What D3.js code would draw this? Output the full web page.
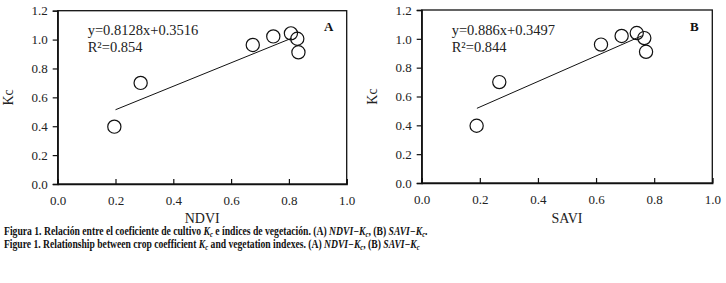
<!DOCTYPE html>
<html><head><meta charset="utf-8">
<script src="https://cdn.jsdelivr.net/npm/d3@7/dist/d3.min.js"></script>
<style>
html,body{margin:0;padding:0;background:#fff;}
svg{display:block;font-family:"Liberation Serif","DejaVu Serif",serif;}
</style></head>
<body>
<svg id="chart" width="726" height="283"></svg>
<script>
// ---- data ----
const ndviX = [0.196, 0.287, 0.675, 0.746, 0.807, 0.829, 0.833];
const ndviKc = [0.397, 0.700, 0.963, 1.022, 1.043, 1.006, 0.912];
const saviX = [0.189, 0.267, 0.617, 0.688, 0.740, 0.766, 0.772];
const saviKc = [0.397, 0.700, 0.960, 1.020, 1.040, 1.005, 0.910];
const fitA = {slope: 0.8128, intercept: 0.3516, x0: 0.2, x1: 0.81};
const fitB = {slope: 0.886, intercept: 0.3497, x0: 0.19, x1: 0.757};
const xTicks = [0.0, 0.2, 0.4, 0.6, 0.8, 1.0];
const yTicks = [0.0, 0.2, 0.4, 0.6, 0.8, 1.0, 1.2];
const eqA = ["y=0.8128x+0.3516", "R²=0.854"];
const eqB = ["y=0.886x+0.3497", "R²=0.844"];

const svg = d3.select("#chart");

function panel(o) {
  const x = d3.scaleLinear().domain([0, 1]).range([o.left, o.right]);
  const y = d3.scaleLinear().domain([0, 1.2]).range([o.bottom, o.top]);
  const g = svg.append("g");

  // frame
  g.append("rect").attr("x", o.left).attr("y", o.top)
    .attr("width", o.right - o.left).attr("height", o.bottom - o.top)
    .attr("fill", "none").attr("stroke", "#111").attr("stroke-width", 1.3);

  // y axis (outward ticks)
  const ya = g.append("g").attr("transform", `translate(${o.left},0)`)
    .call(d3.axisLeft(y).tickValues(yTicks).tickFormat(d3.format(".1f")).tickSize(5).tickPadding(5));
  // x axis (inward ticks)
  const xa = g.append("g").attr("transform", `translate(0,${o.bottom})`)
    .call(d3.axisBottom(x).tickValues(xTicks).tickFormat(d3.format(".1f")).tickSize(-5).tickPadding(12));
  [ya, xa].forEach(a => {
    a.select(".domain").attr("stroke", "#111").attr("stroke-width", 1.3);
    a.selectAll(".tick line").attr("stroke", "#111").attr("stroke-width", 1.2);
    a.selectAll(".tick text").attr("font-family", "Liberation Serif").attr("font-size", 13).attr("fill", "#222");
  });

  // axis titles
  g.append("text").attr("x", (o.left + o.right) / 2).attr("y", 222.5)
    .attr("text-anchor", "middle").attr("font-size", 14).attr("fill", "#222").text(o.xLabel);
  g.append("text").attr("transform", `translate(${o.left - 45},${(o.top + o.bottom) / 2}) rotate(-90)`)
    .attr("text-anchor", "middle").attr("font-size", 14).attr("fill", "#222").text("Kc");

  // regression line
  g.append("line")
    .attr("x1", x(o.fit.x0)).attr("y1", y(o.fit.slope * o.fit.x0 + o.fit.intercept))
    .attr("x2", x(o.fit.x1)).attr("y2", y(o.fit.slope * o.fit.x1 + o.fit.intercept))
    .attr("stroke", "#111").attr("stroke-width", 1);

  // points
  g.selectAll("circle.pt").data(o.xs.map((v, i) => [v, o.ys[i]])).join("circle")
    .attr("class", "pt").attr("cx", d => x(d[0])).attr("cy", d => y(d[1])).attr("r", 6.6)
    .attr("fill", "none").attr("stroke", "#111").attr("stroke-width", 1.2);

  // equation
  o.eq.forEach((t, i) => {
    g.append("text").attr("x", o.left + 30).attr("y", 35 + i * 16.5)
      .attr("font-size", 14.5).attr("fill", "#222").text(t);
  });
  // panel letter
  g.append("text").attr("x", o.right - 18).attr("y", 31).attr("text-anchor", "middle")
    .attr("font-size", 13).attr("font-weight", "bold").attr("fill", "#111").text(o.letter);
}

panel({left: 57.7, right: 346.7, top: 10.7, bottom: 184, xs: ndviX, ys: ndviKc, fit: fitA, eq: eqA, letter: "A", xLabel: "NDVI"});
panel({left: 421.7, right: 712.3, top: 10, bottom: 183, xs: saviX, ys: saviKc, fit: fitB, eq: eqB, letter: "B", xLabel: "SAVI"});

// caption
function caption(parts, yb, targetW, weight) {
  const g = svg.append("g");
  const t = g.append("text").attr("x", 0).attr("y", 0).attr("font-size", 11.5)
    .attr("font-weight", weight).attr("fill", "#111");
  parts.forEach(p => {
    const s = t.append("tspan").text(p.t);
    if (p.i) s.attr("font-style", "italic");
    if (p.sub) { s.attr("font-size", 8).attr("dy", 2).attr("font-style", "italic"); }
    if (p.up) s.attr("dy", -2);
  });
  const w = t.node().getComputedTextLength();
  g.attr("transform", `translate(4,${yb}) scale(${targetW / w},1)`);
}
caption([
  {t: "Figura 1. Relación entre el coeficiente de cultivo "}, {t: "K", i: 1}, {t: "c", sub: 1},
  {t: " e índices de vegetación. (A) ", up: 1}, {t: "NDVI−K", i: 1}, {t: "c", sub: 1},
  {t: ", (B) ", up: 1}, {t: "SAVI−K", i: 1}, {t: "c", sub: 1}, {t: ".", up: 1}
], 235, 424, "bold");
caption([
  {t: "Figure 1. Relationship between crop coefficient "}, {t: "K", i: 1}, {t: "c", sub: 1},
  {t: " and vegetation indexes. (A) ", up: 1}, {t: "NDVI−K", i: 1}, {t: "c", sub: 1},
  {t: ", (B) ", up: 1}, {t: "SAVI−K", i: 1}, {t: "c", sub: 1}
], 248, 416, "bold");
</script>
</body></html>
